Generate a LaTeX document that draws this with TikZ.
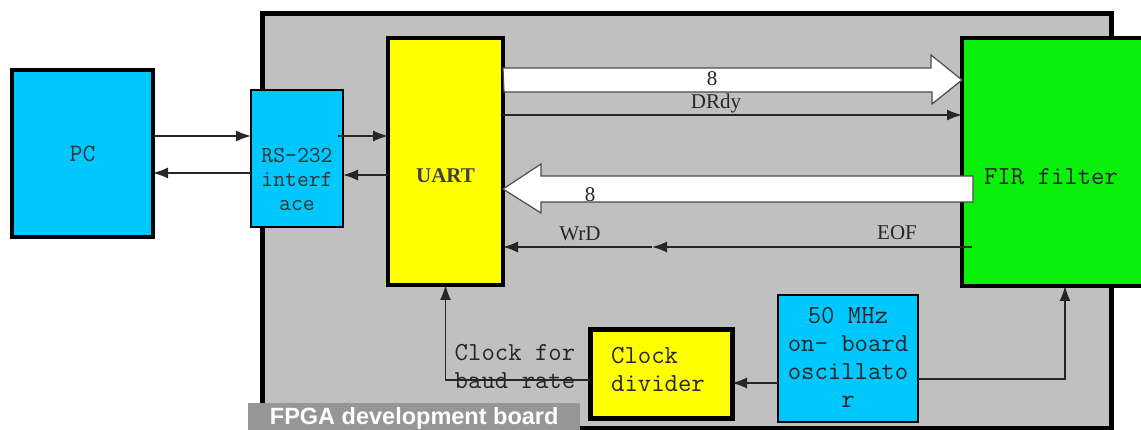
\documentclass[tikz,border=0pt]{standalone}
\usepackage{fontspec}
\setmainfont{Liberation Serif}
\setsansfont{Liberation Sans}
\usetikzlibrary{arrows.meta,calc}
\definecolor{boardgray}{RGB}{192,192,192}
\definecolor{labelgray}{RGB}{150,150,150}
\definecolor{cyanbox}{RGB}{0,200,255}
\definecolor{yellowbox}{RGB}{255,255,0}
\definecolor{greenbox}{RGB}{10,240,10}
\begin{document}
\begin{tikzpicture}[x=1pt,y=-1pt,
  box/.style={draw=black, anchor=north west, inner sep=0pt, outer sep=0pt},
  sig/.style={draw=black!85, line width=1.4pt, -{Latex[length=15pt,width=11pt]}},
  bigarrow/.style={draw=black!70, fill=white, line width=1.2pt},
  monotxt/.style={font=\fontsize{26}{28}\selectfont\ttfamily, text=black!85, inner sep=0pt},
  monosmall/.style={font=\fontsize{23}{24}\selectfont\ttfamily, text=black!80, inner sep=0pt},
  seriftxt/.style={font=\fontsize{21}{25}\selectfont, text=black!85, inner sep=0pt}
]
\useasboundingbox (0,0) rectangle (1141,430);
% helper levels
\coordinate (y80) at (0,80);
\coordinate (y115) at (0,115);
\coordinate (y136) at (0,136);
\coordinate (y173) at (0,173);
\coordinate (y175) at (0,175);
\coordinate (y189) at (0,189);
\coordinate (y247) at (0,247);
\coordinate (y379) at (0,379);
\coordinate (y380) at (0,380);
\coordinate (y383) at (0,383);
\coordinate (x1065) at (1065,0);

% board
\node[box, fill=boardgray, line width=5pt, minimum width=849pt, minimum height=414pt] (board) at (262,14) {};

% blocks
\node[box, fill=cyanbox, line width=4pt, minimum width=141pt, minimum height=167pt] (pc) at (12,70) {};
\node[monosmall, font=\fontsize{25}{26}\selectfont\ttfamily] at (pc.center) {PC};

\node[box, fill=cyanbox, line width=2pt, minimum width=92pt, minimum height=137pt] (rs) at (251,90) {};
\node[monosmall, align=center] at ($(rs.center)+(0,21)$) {RS-232\\interf\\ace};

\node[box, fill=yellowbox, line width=4pt, minimum width=115pt, minimum height=247pt] (uart) at (388,38) {};
\node[seriftxt, font=\fontsize{21}{25}\selectfont\bfseries, text=black!75] at ($(uart.center)+(0,14)$) {UART};

\node[box, fill=greenbox, line width=4pt, minimum width=186pt, minimum height=248pt] (fir) at (962,38) {};
\node[monotxt] at ($(fir.center)+(-4,15)$) {FIR filter};

\node[box, fill=yellowbox, line width=5pt, minimum width=142pt, minimum height=88pt] (divider) at (590,330) {};
\node[monotxt, align=left] at ($(divider.center)+(-3,-5)$) {Clock\\divider};

\node[box, fill=cyanbox, line width=2pt, minimum width=140pt, minimum height=127pt] (osc) at (778,295) {};
\node[monotxt, align=center] at ($(osc.center)+(0,-1)$) {50 MHz\\on- board\\oscillato\\r};

% PC <-> RS-232 <-> UART
\draw[sig] (pc.east|-y136) -- (rs.west|-y136);
\draw[sig] (rs.west|-y173) -- (pc.east|-y173);
\draw[sig] ($(rs.east|-y136)+(-5,0)$) -- (uart.west|-y136);
\draw[sig] (uart.west|-y175) -- (rs.east|-y175);

% big data arrows
\draw[bigarrow] (uart.east|-y80) ++(0,-12) -- ++(428,0) -- ++(0,-13) -- (fir.west|-y80) -- ++(-30,24) -- ++(0,-12) -- ++(-428,0) -- cycle;
\draw[bigarrow] (uart.east|-y189) -- ++(38,-25) -- ++(0,12) -- ++(432,0) -- ++(0,26) -- ++(-432,0) -- ++(0,11) -- cycle;
\node[seriftxt] at (712,79) {8};
\node[seriftxt] at (590,195) {8};

% control signals
\draw[sig] (uart.east|-y115) -- (fir.west|-y115);
\node[seriftxt] at (716,103) {DRdy};
\coordinate (mid) at (652,247);
\draw[sig] ($(fir.west|-y247)+(10,0)$) -- (mid);
\draw[sig] (mid) -- (uart.east|-y247);
\node[seriftxt] at (580,234) {WrD};
\node[seriftxt] at (897,233) {EOF};

% clocks
\node[monotxt, align=left] at (515,366) {Clock for\\baud rate};
\draw[sig] (divider.west|-y380) -| (uart.south);
\draw[sig] (osc.west|-y383) -- (divider.east|-y383);
\draw[sig] (osc.east|-y379) -| (fir.south -| x1065);

% board label
\node[fill=labelgray, anchor=north west, minimum width=332pt, minimum height=30pt, inner sep=0pt, text=white, font=\fontsize{23.5}{26}\selectfont\sffamily\bfseries] (fpga) at (248,403) {FPGA development board};
\end{tikzpicture}
\end{document}
